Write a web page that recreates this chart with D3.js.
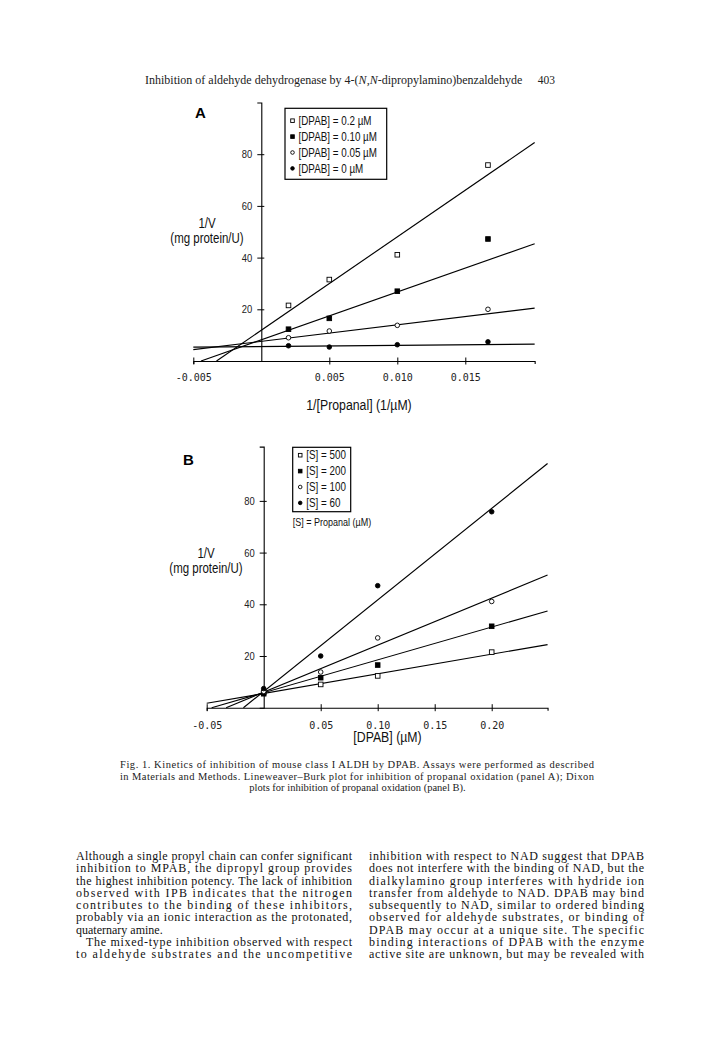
<!DOCTYPE html>
<html>
<head>
<meta charset="utf-8">
<script src="https://cdn.jsdelivr.net/npm/d3@7"></script>
<style>
  body { margin: 0; background: #fff; }
  .sans { font-family: "Liberation Sans", Arial, sans-serif; }
  .serif { font-family: "Liberation Serif", "Times New Roman", serif; }
  .mono { font-family: "DejaVu Sans Mono", "Liberation Mono", monospace; }
</style>
</head>
<body>
<svg id="fig" width="720" height="1056"></svg>
<script>
// concentrations (µM)
const dpab = [0, 0.05, 0.10, 0.2];
const propanal = [500, 200, 100, 60];

// 1/V (mg protein/U), one array per DPAB level, columns follow propanal
const invV_dpab0 = [5.9, 5.4, 6.3, 7.4];
const invV_dpab005 = [9.0, 11.6, 13.8, 20.0];
const invV_dpab010 = [12.3, 16.5, 27.0, 47.2];
const invV_dpab020 = [21.5, 31.5, 41.1, 75.8];

// fitted lines as drawn in the figure (intercept, slope)
const fitA_int = [11.9, 8.2, 7.6, 5.6];     // DPAB 0.2, 0.10, 0.05, 0
const fitA_slope = [3612, 1850, 640, 45];
const fitB_int = [5.5, 5.8, 6.0, 6.3];      // S 500, 200, 100, 60
const fitB_slope = [76, 127, 182, 354];

const legendA = ["[DPAB] = 0.2 \u00b5M", "[DPAB] = 0.10 \u00b5M", "[DPAB] = 0.05 \u00b5M", "[DPAB] = 0 \u00b5M"];
const legendB = ["[S] = 500", "[S] = 200", "[S] = 100", "[S] = 60"];
const ticksA_x = [-0.005, 0.005, 0.010, 0.015];
const ticksB_x = [-0.05, 0.05, 0.10, 0.15, 0.20];
const ticksY = [20, 40, 60, 80];
const symbols = ["openSquare", "fillSquare", "openCircle", "fillCircle"];

const caption = [
  "Fig. 1. Kinetics of inhibition of mouse class I ALDH by DPAB. Assays were performed as described",
  "in Materials and Methods. Lineweaver\u2013Burk plot for inhibition of propanal oxidation (panel A); Dixon",
  "plots for inhibition of propanal oxidation (panel B)."
];
const colLeft = [
  "Although a single propyl chain can confer significant",
  "inhibition to MPAB, the dipropyl group provides",
  "the highest inhibition potency. The lack of inhibition",
  "observed with IPB indicates that the nitrogen",
  "contributes to the binding of these inhibitors,",
  "probably via an ionic interaction as the protonated,",
  "quaternary amine.",
  "The mixed-type inhibition observed with respect",
  "to aldehyde substrates and the uncompetitive"
];
const colRight = [
  "inhibition with respect to NAD suggest that DPAB",
  "does not interfere with the binding of NAD, but the",
  "dialkylamino group interferes with hydride ion",
  "transfer from aldehyde to NAD. DPAB may bind",
  "subsequently to NAD, similar to ordered binding",
  "observed for aldehyde substrates, or binding of",
  "DPAB may occur at a unique site. The specific",
  "binding interactions of DPAB with the enzyme",
  "active site are unknown, but may be revealed with"
];

const rows = [invV_dpab020, invV_dpab010, invV_dpab005, invV_dpab0]; // legend order of panel A
const dpabOrder = [3, 2, 1, 0];
const NARROW = 0.82; // no narrow font installed, squeeze Liberation Sans instead

const svg = d3.select("#fig");
svg.append("rect").attr("width", 720).attr("height", 1056).attr("fill", "#fff");

function ntext(parent, x, y, size, anchor, str) {
  return parent.append("text").attr("class", "sans")
    .attr("transform", `translate(${x},${y}) scale(${NARROW},1)`)
    .attr("font-size", size).attr("text-anchor", anchor).attr("fill", "#111").text(str);
}

function marker(g, type, cx, cy, s) {
  if (type === "openSquare" || type === "fillSquare") {
    g.append("rect")
      .attr("x", cx - s / 2).attr("y", cy - s / 2)
      .attr("width", s).attr("height", s)
      .attr("fill", type === "fillSquare" ? "#000" : "#fff")
      .attr("stroke", "#000").attr("stroke-width", 0.9);
  } else {
    g.append("circle")
      .attr("cx", cx).attr("cy", cy).attr("r", s / 2)
      .attr("fill", type === "fillCircle" ? "#000" : "#fff")
      .attr("stroke", "#000").attr("stroke-width", 0.9);
  }
}

function panel(o) {
  const g = svg.append("g");
  const x = o.x, y = o.y;

  // x axis, ticks cross the line
  const ax = g.append("g")
    .attr("transform", `translate(0,${y(0)})`)
    .call(d3.axisBottom(x).tickValues(o.xticks).tickSizeOuter(0).tickSize(3).tickFormat(o.fmt));
  ax.attr("font-family", null).attr("font-size", null);
  ax.select(".domain").attr("stroke-width", 1.1);
  ax.selectAll(".tick line").attr("y1", -3.5).attr("y2", 3.5);
  ax.selectAll(".tick text").attr("class", "mono").attr("font-size", 10)
    .attr("y", o.tickLabelDy).attr("dy", 0).attr("fill", "#222");

  const ay = g.append("g")
    .attr("transform", `translate(${x(0)},0)`)
    .call(d3.axisLeft(y).tickValues(ticksY).tickSizeOuter(0).tickSize(4));
  ay.attr("font-family", null).attr("font-size", null);
  ay.select(".domain").attr("stroke-width", 1.1);
  ay.selectAll(".tick line").attr("x1", 3).attr("x2", -4);
  ay.selectAll(".tick text").attr("class", "sans").attr("font-size", 11.5)
    .attr("x", 0).attr("transform", `translate(-9,0) scale(${NARROW},1)`).attr("fill", "#222");

  // fitted lines
  const xmin = x.domain()[0], xmax = x.domain()[1];
  o.fits.forEach(f => {
    const x0 = Math.max(xmin, -f.b / f.m);
    g.append("line")
      .attr("x1", x(x0)).attr("y1", y(f.b + f.m * x0))
      .attr("x2", x(xmax)).attr("y2", y(f.b + f.m * xmax))
      .attr("stroke", "#000").attr("stroke-width", 1.15);
  });

  // data points
  o.series.forEach((s, i) => {
    s.forEach(p => marker(g, symbols[i], x(p[0]), y(p[1]), 4.6));
  });

  // legend
  const L = o.legend;
  const lg = g.append("g").attr("transform", `translate(${L.x},${L.y})`);
  lg.append("rect").attr("width", L.w).attr("height", L.h)
    .attr("fill", "#fff").attr("stroke", "#000").attr("stroke-width", 1.2);
  L.labels.forEach((t, i) => {
    const cy = L.pad + i * 15.9;
    marker(lg, symbols[i], 7.5, cy, 3.6);
    ntext(lg, 13.5, cy + 4.2, 12, "start", t);
  });

  // panel letter and axis titles
  g.append("text").attr("class", "sans").attr("font-weight", "bold")
    .attr("font-size", 15).attr("x", o.letter[0]).attr("y", o.letter[1]).text(o.letter[2]);
  ntext(g, o.ylab[0], o.ylab[1], 14, "middle", "1/V");
  ntext(g, o.ylab[0], o.ylab[1] + 15.5, 14, "middle", "(mg protein/U)");
  ntext(g, o.xlab[0], o.xlab[1], 15, "middle", o.xlab[2]);
  return g;
}

// panel A: Lineweaver-Burk, x = 1/[propanal]
const xA = d3.scaleLinear().domain([-0.005, 0.0201]).range([193.3, 193.3 + 0.0251 * 13600]);
const yA = d3.scaleLinear().domain([0, 100]).range([361, 102.5]);
panel({
  x: xA, y: yA, xticks: ticksA_x, fmt: d => d.toFixed(3), tickLabelDy: 20,
  fits: fitA_int.map((b, i) => ({ b, m: fitA_slope[i] })),
  series: rows.map(r => r.map((v, j) => [1 / propanal[j], v])),
  legend: { x: 285, y: 108.3, w: 101.7, h: 71, pad: 12.4, labels: legendA },
  letter: [195, 118, "A"],
  ylab: [207, 227.5],
  xlab: [359, 410, "1/[Propanal]  (1/\u00b5M)"]
});

// panel B: Dixon, x = [DPAB]
const xB = d3.scaleLinear().domain([-0.05, 0.249]).range([206.7, 206.7 + 0.299 * 1140]);
const yB = d3.scaleLinear().domain([0, 101]).range([707.7, 446.6]);
panel({
  x: xB, y: yB, xticks: ticksB_x, fmt: d => d.toFixed(2), tickLabelDy: 21,
  fits: fitB_int.map((b, i) => ({ b, m: fitB_slope[i] })),
  series: propanal.map((s, j) => dpabOrder.map(k => [dpab[k], rows[3 - k][j]])),
  legend: { x: 292.7, y: 447.3, w: 58, h: 64.4, pad: 7.9, labels: legendB },
  letter: [183, 465, "B"],
  ylab: [206, 557.5],
  xlab: [387.5, 742, "[DPAB] (\u00b5M)"]
});
ntext(svg, 292.7, 525.5, 11, "start", "[S] = Propanal (\u00b5M)");

// running header
const h = svg.append("text").attr("class", "serif").attr("font-size", 12).attr("x", 145).attr("y", 84).attr("fill", "#222");
h.append("tspan").text("Inhibition of aldehyde dehydrogenase by 4-(");
h.append("tspan").attr("font-style", "italic").text("N");
h.append("tspan").text(",");
h.append("tspan").attr("font-style", "italic").text("N");
h.append("tspan").text("-dipropylamino)benzaldehyde");
svg.append("text").attr("class", "serif").attr("font-size", 11.5).attr("x", 555).attr("y", 84)
  .attr("text-anchor", "end").attr("fill", "#222").text("403");

// caption
caption.forEach((t, i) => {
  const el = svg.append("text").attr("class", "serif").attr("font-size", 10.5).attr("fill", "#222")
    .attr("y", 768 + i * 11.5).text(t);
  if (i < 2) el.attr("x", 120).attr("textLength", 474).attr("lengthAdjust", "spacing");
  else el.attr("x", 357.5).attr("text-anchor", "middle");
});

// body text columns
function column(lines, x0, w, ragged) {
  lines.forEach((t, i) => {
    const indent = (ragged.indent === i) ? 10 : 0;
    const el = svg.append("text").attr("class", "serif").attr("font-size", 12).attr("fill", "#111")
      .attr("x", x0 + indent).attr("y", 860 + i * 12.25).text(t);
    if (ragged.last !== i) el.attr("textLength", w - indent).attr("lengthAdjust", "spacing");
  });
}
column(colLeft, 76, 276, { last: 6, indent: 7 });
column(colRight, 369, 275, { last: -1, indent: -1 });
</script>
</body>
</html>
